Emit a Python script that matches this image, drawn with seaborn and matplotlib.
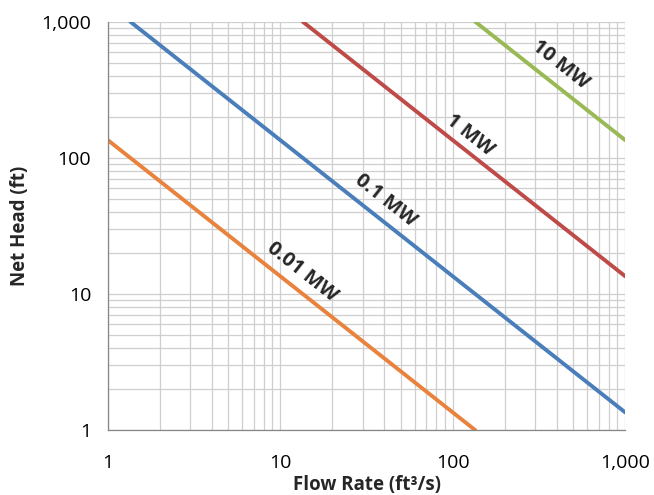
import numpy as np
import matplotlib
matplotlib.use("Agg")
import matplotlib.pyplot as plt
import seaborn as sns
from matplotlib.ticker import FixedLocator, LogLocator, NullFormatter

# visible end points of each power line (flow ft3/s, head ft)
flow_001 = [1, 135]
head_001 = [135, 1]
flow_01 = [1.35, 1000]
head_01 = [1000, 1.35]
flow_1 = [13.5, 1000]
head_1 = [1000, 13.5]
flow_10 = [135, 1000]
head_10 = [1000, 135]

series = ["0.01 MW", "0.1 MW", "1 MW", "10 MW"]
colors = ["#E8823C", "#4A7EBB", "#BE4B48", "#98B954"]
label_pos = [(13.4, 14.5), (40.5, 49), (126, 148), (420, 483)]

tick_vals = [1, 10, 100, 1000]
tick_labels = ["1", "10", "100", "1,000"]

sns.set_style("white")
plt.rcParams["font.family"] = ["Open Sans", "DejaVu Sans"]

fig = plt.figure(figsize=(6.54, 4.95), dpi=100)
ax = fig.add_axes([0.165, 0.131, 0.791, 0.825])

for fx, hy, col in zip([flow_001, flow_01, flow_1, flow_10],
                       [head_001, head_01, head_1, head_10], colors):
    sns.lineplot(x=fx, y=hy, ax=ax, color=col, linewidth=2.8, sort=False)

ax.set_xscale("log")
ax.set_yscale("log")
ax.set_xlim(1, 1000)
ax.set_ylim(1, 1000)

ax.xaxis.set_major_locator(FixedLocator(tick_vals))
ax.yaxis.set_major_locator(FixedLocator(tick_vals))
ax.set_xticklabels(tick_labels, fontsize=14)
ax.set_yticklabels(tick_labels, fontsize=14)
ax.xaxis.set_minor_locator(LogLocator(base=10, subs=np.arange(2, 10)))
ax.yaxis.set_minor_locator(LogLocator(base=10, subs=np.arange(2, 10)))
ax.xaxis.set_minor_formatter(NullFormatter())
ax.yaxis.set_minor_formatter(NullFormatter())

ax.grid(True, which="both", color="#CFCFCF", linewidth=0.9)
ax.set_axisbelow(True)
for side in ["top", "right"]:
    ax.spines[side].set_visible(False)
for side in ["left", "bottom"]:
    ax.spines[side].set_color("#868686")
    ax.spines[side].set_linewidth(0.9)
ax.tick_params(which="major", direction="out", length=5, color="#868686",
               labelcolor="black")
ax.tick_params(axis="x", which="major", pad=12)
ax.tick_params(axis="y", which="major", pad=7)
ax.tick_params(which="minor", length=0)

ax.set_xlabel("Flow Rate (ft³/s)", fontsize=13.5, fontweight="bold", labelpad=2)
ax.set_ylabel("Net Head (ft)", fontsize=13.5, fontweight="bold", labelpad=8)

# slope of the lines in screen space
fig.canvas.draw()
p0 = ax.transData.transform((1, 1000))
p1 = ax.transData.transform((1000, 1))
angle = np.degrees(np.arctan2(p1[1] - p0[1], p1[0] - p0[0]))
for name, (lx, ly) in zip(series, label_pos):
    ax.text(lx, ly, name, rotation=angle, rotation_mode="anchor",
            ha="center", va="center", fontsize=14.5, fontweight="bold")

fig.savefig("out.png", dpi=100)
